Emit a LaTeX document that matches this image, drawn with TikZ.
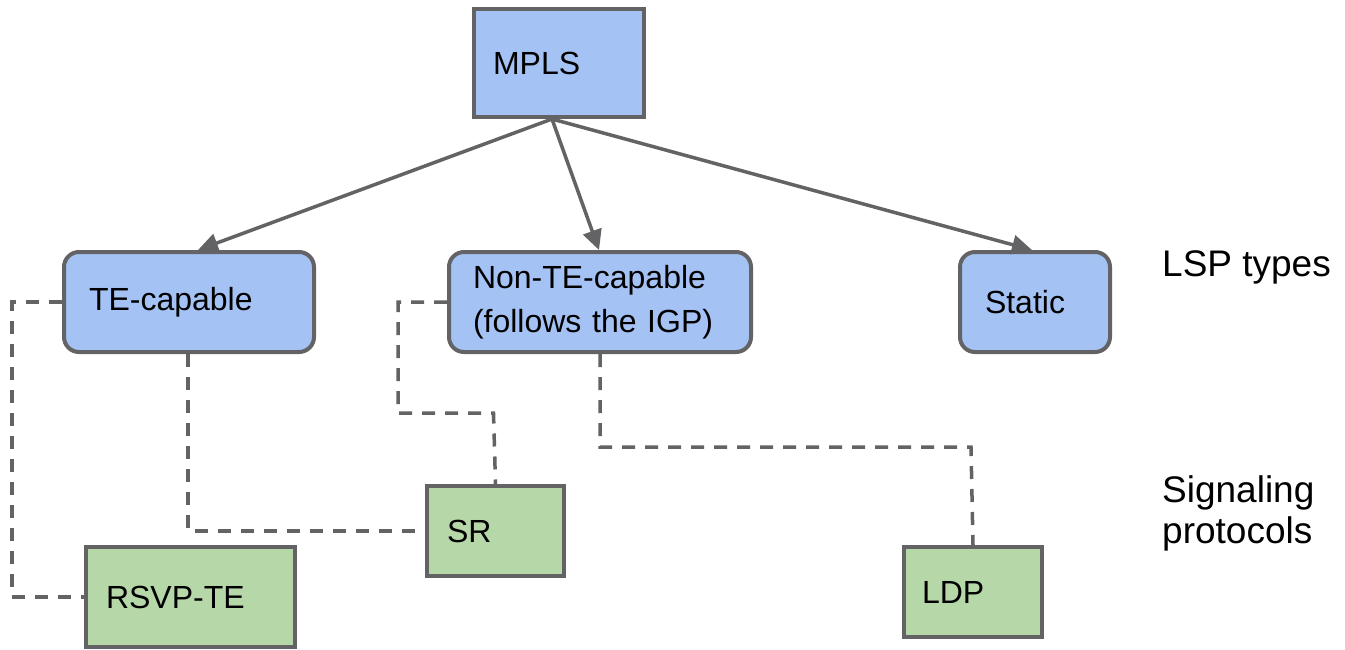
\documentclass[tikz,border=0pt]{standalone}
\usepackage{fontspec}
\setmainfont{Liberation Sans}
\usetikzlibrary{arrows.meta}
\definecolor{edge}{HTML}{636366}
\definecolor{bluefill}{HTML}{A4C2F4}
\definecolor{greenfill}{HTML}{B6D7A8}
\tikzset{
  box/.style={draw=edge, line width=4pt, anchor=north west, inner xsep=0pt, inner ysep=0pt,
    font=\fontsize{32}{44}\selectfont, align=left},
  bluebox/.style={box, fill=bluefill, rounded corners=15pt},
  bluesq/.style={box, fill=bluefill},
  greenbox/.style={box, fill=greenfill},
  arr/.style={draw=edge, line width=3.5pt, -{Triangle[length=20pt,width=19pt]}},
  dashline/.style={draw=edge, line width=3.5pt, dash pattern=on 13pt off 10pt},
  lbl/.style={font=\fontsize{37}{41}\selectfont, align=left, anchor=base west, inner sep=0pt}
}
\begin{document}
\begin{tikzpicture}[x=1pt,y=-1pt]
\useasboundingbox (0,0) rectangle (1345,649);
\node[bluesq, minimum width=170pt, minimum height=108pt, text width=132pt] (mpls) at (472,7) {MPLS};
\node[bluebox, minimum width=250pt, minimum height=100pt, text width=200pt] (te) at (62,250) {TE-capable};
\node[bluebox, minimum width=302pt, minimum height=100pt, text width=254pt] (nte) at (447,250) {Non-TE-capable\\(follows the IGP)};
\node[bluebox, minimum width=150pt, minimum height=100pt, text width=100pt] (st) at (958,250) {Static};
\node[greenbox, minimum width=137pt, minimum height=90pt, text width=97pt] (sr) at (425,484) {SR};
\node[greenbox, minimum width=209pt, minimum height=100pt, text width=169pt] (rsvp) at (84,545) {RSVP-TE};
\node[greenbox, minimum width=138pt, minimum height=90pt, text width=102pt] (ldp) at (902,545) {LDP};
\node[lbl] (lsp) at (1162,276) {LSP types};
\node[lbl] (sig) at (1162,543) {Signaling\\protocols};
% arrows
\draw[arr] ([xshift=-7pt]mpls.south) -- ([xshift=9pt]te.north);
\draw[arr] ([xshift=-7pt]mpls.south) -- ([xshift=-1pt]nte.north);
\draw[arr] ([xshift=-7pt]mpls.south) -- ([xshift=-3pt]st.north);
% dashed
\coordinate (c1) at (493.5,413);
\coordinate (c2) at (971,447);
\draw[dashline] (te.west) -- ++(-50,0) |- (rsvp.west);
\draw[dashline] ([xshift=-1pt]te.south) |- (sr.west);
\draw[dashline] (nte.west) -- ++(-49,0) |- (c1) -- (sr.north);
\draw[dashline] (nte.south) |- (c2) -- (ldp.north);
\end{tikzpicture}
\end{document}
